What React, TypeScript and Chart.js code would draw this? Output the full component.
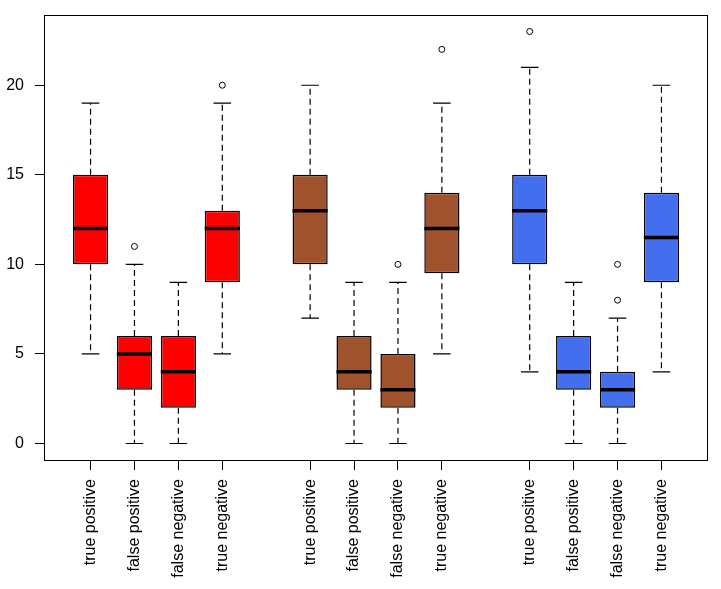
import React, { useEffect, useRef } from 'react';
import { Chart, registerables } from 'chart.js';

Chart.register(...registerables);

const categories = ['true positive', 'false positive', 'false negative', 'true negative'];
const positions = [1, 2, 3, 4, 6, 7, 8, 9, 11, 12, 13, 14];
const xLabels = [...categories, ...categories, ...categories];
const groupColors = ['#FF0000', '#A0522D', '#436EEE'];

const whiskerLow = [5, 0, 0, 5, 7, 0, 0, 5, 4, 0, 0, 4];
const q1 = [10, 3, 2, 9, 10, 3, 2, 9.5, 10, 3, 2, 9];
const medians = [12, 5, 4, 12, 13, 4, 3, 12, 13, 4, 3, 11.5];
const q3 = [15, 6, 6, 13, 15, 6, 5, 14, 15, 6, 4, 14];
const whiskerHigh = [19, 10, 9, 19, 20, 9, 9, 19, 21, 9, 7, 20];

const outlierBox = [1, 3, 6, 7, 8, 10, 10];
const outlierValues = [11, 20, 10, 22, 23, 10, 8];

const yTicks = [0, 5, 10, 15, 20];

const FONT = "Arial, 'Liberation Sans', sans-serif";
const BOX_HALF = 0.4;
const CAP_HALF = 0.2;

const framePlugin = {
  id: 'frame',
  afterDraw(chart: any) {
    const { ctx, chartArea } = chart;
    const { left, top, right, bottom } = chartArea;
    ctx.save();
    ctx.strokeStyle = '#000';
    ctx.lineWidth = 1;
    ctx.strokeRect(left + 0.5, top + 0.5, right - left - 1, bottom - top);
    ctx.restore();
  },
};

export default function App() {
  const ref = useRef<HTMLCanvasElement | null>(null);

  useEffect(() => {
    if (!ref.current) return;
    const boxColors = positions.map((_, i) => groupColors[Math.floor(i / 4)]);

    const allVals = [...whiskerLow, ...whiskerHigh, ...outlierValues];
    const yLo = Math.min(...allVals);
    const yHi = Math.max(...allVals);
    const yPad = (yHi - yLo) * 0.04;
    const xLo = positions[0] - 0.5;
    const xHi = positions[positions.length - 1] + 0.5;
    const xPad = (xHi - xLo) * 0.04;

    const medianData: any[] = [];
    const whiskerData: any[] = [];
    const capData: any[] = [];
    positions.forEach((p, i) => {
      medianData.push({ x: p - BOX_HALF, y: medians[i] }, { x: p + BOX_HALF, y: medians[i] }, { x: p + BOX_HALF, y: null });
      whiskerData.push(
        { x: p, y: q3[i] }, { x: p, y: whiskerHigh[i] }, { x: p, y: null },
        { x: p, y: q1[i] }, { x: p, y: whiskerLow[i] }, { x: p, y: null }
      );
      capData.push(
        { x: p - CAP_HALF, y: whiskerHigh[i] }, { x: p + CAP_HALF, y: whiskerHigh[i] }, { x: p + CAP_HALF, y: null },
        { x: p - CAP_HALF, y: whiskerLow[i] }, { x: p + CAP_HALF, y: whiskerLow[i] }, { x: p + CAP_HALF, y: null }
      );
    });
    const outlierData = outlierBox.map((b, i) => ({ x: positions[b], y: outlierValues[i] }));

    const lineCommon = {
      type: 'line' as const,
      pointRadius: 0,
      tension: 0,
      spanGaps: false,
      fill: false,
      borderColor: '#000',
    };

    const zeroPad = (s: any) => {
      s.paddingTop = 0;
      s.paddingBottom = 0;
      s.paddingLeft = 0;
      s.paddingRight = 0;
    };

    const chart = new Chart(ref.current, {
      type: 'bar',
      data: {
        datasets: [
          {
            type: 'bar',
            data: positions.map((p, i) => ({ x: p, y: [q1[i], q3[i]] })) as any,
            backgroundColor: boxColors,
            borderColor: '#000',
            borderWidth: 1.5,
            borderSkipped: false,
            inflateAmount: 0,
            barPercentage: BOX_HALF * 2,
            categoryPercentage: 1,
            order: 2,
          } as any,
          { ...lineCommon, data: medianData, borderWidth: 3.5, order: 1 } as any,
          { ...lineCommon, data: capData, borderWidth: 1.2, order: 3 } as any,
          { ...lineCommon, data: whiskerData, borderWidth: 1.2, borderDash: [6, 4], order: 4 } as any,
          {
            type: 'scatter',
            data: outlierData,
            pointStyle: 'circle',
            pointRadius: 3,
            pointBackgroundColor: 'rgba(0,0,0,0)',
            pointBorderColor: '#000',
            pointBorderWidth: 1,
            showLine: false,
            order: 0,
          } as any,
        ],
      },
      options: {
        animation: false,
        responsive: false,
        devicePixelRatio: 1,
        events: [],
        layout: { padding: { top: 15, right: 13, left: 0, bottom: 0 } },
        plugins: {
          legend: { display: false },
          tooltip: { enabled: false },
        },
        scales: {
          x: {
            type: 'linear',
            min: xLo - xPad,
            max: xHi + xPad,
            offset: false,
            border: { display: false },
            grid: { display: true, offset: false, drawOnChartArea: false, drawTicks: true, tickLength: 10, color: '#000', lineWidth: 1 },
            ticks: {
              autoSkip: false,
              minRotation: 90,
              maxRotation: 90,
              padding: 9,
              color: '#000',
              font: { family: FONT, size: 16 },
              callback: (_v: any, i: number) => xLabels[i],
            },
            afterBuildTicks: (s: any) => {
              s.ticks = positions.map((v) => ({ value: v }));
            },
            afterFit: (s: any) => {
              s.height = 129;
              zeroPad(s);
            },
          },
          y: {
            type: 'linear',
            min: yLo - yPad,
            max: yHi + yPad,
            border: { display: false },
            grid: { display: true, offset: false, drawOnChartArea: false, drawTicks: true, tickLength: 9, color: '#000', lineWidth: 1 },
            ticks: {
              padding: 11,
              color: '#000',
              font: { family: FONT, size: 16 },
            },
            afterBuildTicks: (s: any) => {
              s.ticks = yTicks.map((v) => ({ value: v }));
            },
            afterFit: (s: any) => {
              s.width = 44;
              zeroPad(s);
            },
          },
        },
      } as any,
      plugins: [framePlugin],
    });
    return () => chart.destroy();
  }, []);

  return (
    <div style={{ position: 'absolute', left: 0, top: 0, width: 721, height: 589, background: '#fff' }}>
      <canvas ref={ref} width={721} height={589} style={{ display: 'block' }} />
    </div>
  );
}
